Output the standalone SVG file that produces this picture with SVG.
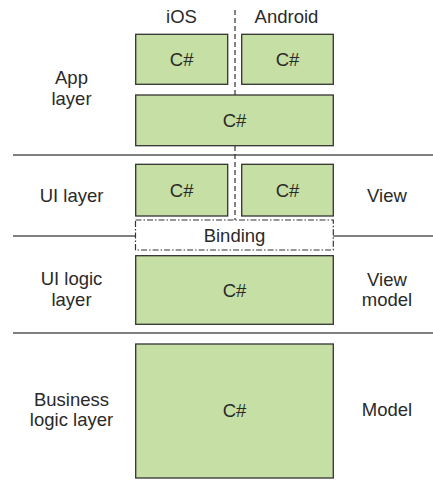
<svg xmlns="http://www.w3.org/2000/svg" width="433" height="480" viewBox="0 0 433 480">
<style>
text{font-family:"Liberation Sans",Arial,sans-serif;font-size:18.5px;fill:#2a2a2a;text-anchor:middle}
.box{fill:#c5dfa4;stroke:#333;stroke-width:1.3}
.sep{stroke:#555;stroke-width:1.4;fill:none}
.dash{stroke:#333;stroke-width:1.2;stroke-dasharray:5 3;fill:none}
.bind{fill:#fff;stroke:#333;stroke-width:1.2;stroke-dasharray:6 2 1.5 2}
</style>
<rect width="433" height="480" fill="#fff"/>
<g id="connectors">
<line class="sep" x1="13" y1="155" x2="433" y2="155"/>
<line class="sep" x1="13" y1="236" x2="135" y2="236"/>
<line class="sep" x1="333" y1="236" x2="433" y2="236"/>
<line class="sep" x1="13" y1="333" x2="433" y2="333"/>
<line class="dash" x1="235" y1="10" x2="235" y2="220"/>
</g>
<g id="labels">
<text x="181.5" y="23">iOS</text>
<text x="286.5" y="23">Android</text>
<text x="71.5" y="84">App</text>
<text x="71.5" y="104.5">layer</text>
<text x="71.5" y="201.5">UI layer</text>
<text x="71.5" y="285">UI logic</text>
<text x="71.5" y="305.5">layer</text>
<text x="71.5" y="405.5">Business</text>
<text x="71.5" y="425.5">logic layer</text>
<text x="387" y="201.5">View</text>
<text x="387" y="285.5">View</text>
<text x="387" y="306">model</text>
<text x="387" y="416">Model</text>
</g>
<g id="app-ios"><rect class="box" x="135.7" y="34.3" width="92" height="50"/><text x="181.7" y="66">C#</text></g>
<g id="app-android"><rect class="box" x="241.7" y="34.3" width="91.6" height="50"/><text x="287.5" y="66">C#</text></g>
<g id="app-shared"><rect class="box" x="135.7" y="95" width="197.6" height="50.7"/><text x="234.5" y="127">C#</text></g>
<g id="ui-ios"><rect class="box" x="135.7" y="164.3" width="92" height="51.7"/><text x="181.7" y="197">C#</text></g>
<g id="ui-android"><rect class="box" x="241.7" y="164.3" width="91.6" height="51.7"/><text x="287.5" y="197">C#</text></g>
<g id="binding"><rect class="bind" x="135.5" y="220" width="197.8" height="30"/><text x="234.5" y="241.5">Binding</text></g>
<g id="ui-logic"><rect class="box" x="135.7" y="255.7" width="197.6" height="68.6"/><text x="234.5" y="296.5">C#</text></g>
<g id="business"><rect class="box" x="135.7" y="344" width="197.6" height="134"/><text x="234.5" y="417">C#</text></g>
</svg>
